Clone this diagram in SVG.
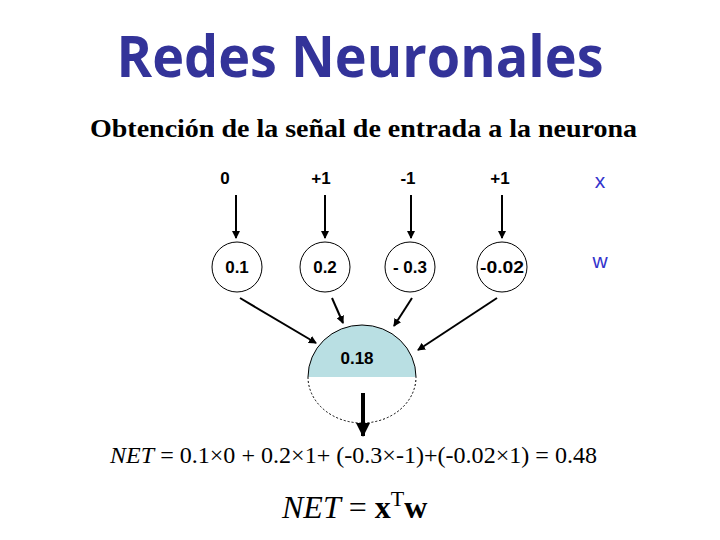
<svg xmlns="http://www.w3.org/2000/svg" width="720" height="540" viewBox="0 0 720 540">
<defs>
<style>
.title{font-family:"Open Sans","Liberation Sans",sans-serif;font-weight:bold;font-size:58px;fill:#333399}
.sub{font-family:"Liberation Serif",serif;font-weight:bold;font-size:26px;fill:#000}
.in{font-family:"Liberation Sans",Arial,sans-serif;font-weight:bold;font-size:17px;fill:#000;text-anchor:middle}
.lbl{font-family:"Liberation Sans",Arial,sans-serif;font-size:21px;fill:#3333cc;text-anchor:middle}
.eq{font-family:"Liberation Serif",serif;font-size:23px;fill:#000}
.eq2{font-family:"Liberation Serif",serif;font-size:32px;fill:#000}
.node{fill:#fff;stroke:#000;stroke-width:1}
.conn{stroke:#000;stroke-width:2;fill:none}
</style>
<marker id="ah" markerWidth="8" markerHeight="8" refX="7" refY="4" orient="auto" markerUnits="userSpaceOnUse">
<path d="M0,0 L8,4 L0,8 Z" fill="#000"/>
</marker>
<marker id="ahb" markerWidth="14" markerHeight="14" refX="13" refY="7" orient="auto" markerUnits="userSpaceOnUse">
<path d="M0,0 L14,7 L0,14 Z" fill="#000"/>
</marker>
</defs>
<rect width="720" height="540" fill="#fff"/>
<text class="title" x="360" y="77" text-anchor="middle" textLength="487" lengthAdjust="spacingAndGlyphs">Redes Neuronales</text>
<text class="sub" x="90" y="137" textLength="547" lengthAdjust="spacingAndGlyphs">Obtención de la señal de entrada a la neurona</text>

<g id="inputs">
<text class="in" x="225" y="184">0</text>
<text class="in" x="321" y="184">+1</text>
<text class="in" x="408" y="184">-1</text>
<text class="in" x="500" y="184">+1</text>
</g>
<text class="lbl" x="600" y="188">x</text>
<text class="lbl" x="600" y="268">w</text>

<g id="connectors">
<line class="conn" x1="236" y1="195" x2="236" y2="238" marker-end="url(#ah)"/>
<line class="conn" x1="325" y1="195" x2="325" y2="238" marker-end="url(#ah)"/>
<line class="conn" x1="411" y1="195" x2="411" y2="238" marker-end="url(#ah)"/>
<line class="conn" x1="502" y1="195" x2="502" y2="238" marker-end="url(#ah)"/>
<line class="conn" x1="240" y1="298" x2="316" y2="343" marker-end="url(#ah)"/>
<line class="conn" x1="332" y1="298" x2="343" y2="323" marker-end="url(#ah)"/>
<line class="conn" x1="412" y1="298" x2="394" y2="326" marker-end="url(#ah)"/>
<line class="conn" x1="497" y1="298" x2="418" y2="350" marker-end="url(#ah)"/>
<line x1="363" y1="393" x2="363" y2="436" stroke="#000" stroke-width="4" marker-end="url(#ahb)"/>
</g>

<g id="w1"><circle class="node" cx="237" cy="267" r="25"/><text class="in" x="237" y="273">0.1</text></g>
<g id="w2"><circle class="node" cx="325" cy="267" r="25"/><text class="in" x="325" y="273">0.2</text></g>
<g id="w3"><circle class="node" cx="410" cy="267" r="25"/><text class="in" x="410" y="273">- 0.3</text></g>
<g id="w4"><circle class="node" cx="502" cy="267" r="25"/><text class="in" x="502" y="273" textLength="44" lengthAdjust="spacingAndGlyphs">-0.02</text></g>

<g id="neuron">
<path d="M308,377 A54,52 0 0 1 416,377 Z" fill="#b9dfe3" stroke="none"/>
<path d="M308,377 A54,52 0 0 1 416,377" fill="none" stroke="#000" stroke-width="1"/>
<path d="M308,377 A54,46 0 0 0 416,377" fill="none" stroke="#000" stroke-width="1" stroke-dasharray="2,2"/>
<text class="in" x="357" y="364">0.18</text>
</g>

<text class="eq" x="110" y="463" textLength="487" lengthAdjust="spacingAndGlyphs"><tspan font-style="italic">NET</tspan> = 0.1×0 + 0.2×1+ (-0.3×-1)+(-0.02×1) = 0.48</text>
<text class="eq2" x="282" y="518"><tspan font-style="italic">NET</tspan> = <tspan font-weight="bold">x</tspan><tspan font-size="22" dy="-12">T</tspan><tspan font-weight="bold" dy="12">w</tspan></text>
</svg>
